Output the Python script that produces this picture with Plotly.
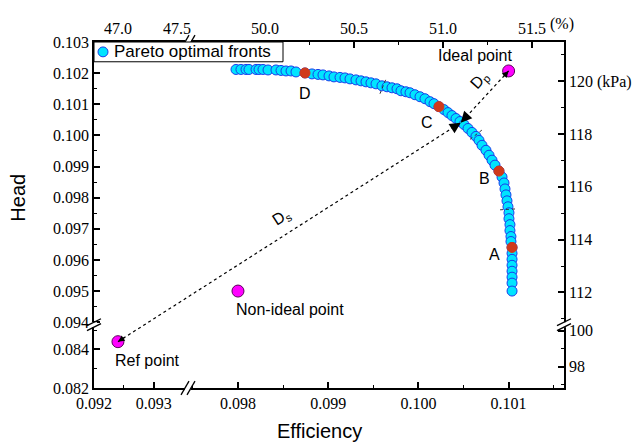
import math
import plotly.graph_objects as go

# ---------------- data ----------------
front_eff = [0.097978, 0.098033, 0.098089, 0.098122, 0.098200, 0.098233, 0.098277, 0.098333,
             0.098421, 0.098477, 0.098532, 0.098588, 0.098643, 0.098743, 0.098820, 0.098887,
             0.098942, 0.099009, 0.099064, 0.099131, 0.099186, 0.099242, 0.099308, 0.099364,
             0.099419, 0.099474, 0.099530, 0.099596, 0.099652, 0.099707, 0.099763, 0.099807,
             0.099862, 0.099907, 0.099962, 0.100018, 0.100073, 0.100129, 0.100173, 0.100228,
             0.100284, 0.100328, 0.100372, 0.100417, 0.100461, 0.100505, 0.100550, 0.100594,
             0.100638, 0.100672, 0.100705, 0.100749, 0.100783, 0.100816, 0.100849, 0.100893,
             0.100927, 0.100949, 0.100960, 0.100971, 0.100982, 0.100993, 0.101004, 0.101004,
             0.101015, 0.101015, 0.101026, 0.101026, 0.101038, 0.101038, 0.101038, 0.101038,
             0.101038, 0.101038, 0.101038, 0.101038]
front_head = [0.102118, 0.102118, 0.102118, 0.102118, 0.102118, 0.102118, 0.102118, 0.102102,
              0.102102, 0.102086, 0.102070, 0.102070, 0.102038, 0.102006, 0.101975, 0.101959,
              0.101943, 0.101911, 0.101879, 0.101863, 0.101847, 0.101815, 0.101783, 0.101752,
              0.101720, 0.101688, 0.101656, 0.101592, 0.101561, 0.101529, 0.101497, 0.101433,
              0.101401, 0.101369, 0.101306, 0.101242, 0.101178, 0.101083, 0.101019, 0.100924,
              0.100828, 0.100733, 0.100637, 0.100542, 0.100446, 0.100350, 0.100223, 0.100096,
              0.099968, 0.099841, 0.099682, 0.099522, 0.099363, 0.099204, 0.099045, 0.098854,
              0.098663, 0.098472, 0.098280, 0.098089, 0.097898, 0.097707, 0.097516, 0.097325,
              0.097134, 0.096943, 0.096752, 0.096592, 0.096401, 0.096210, 0.096019, 0.095828,
              0.095637, 0.095446, 0.095255, 0.095000]

marked_labels = ["D", "C", "B", "A"]
marked_eff = [0.098743, 0.100228, 0.100893, 0.101038]
marked_head = [0.102006, 0.100924, 0.098854, 0.096401]

ideal_eff, ideal_head = 0.101, 0.10207
nonideal_eff, nonideal_head = 0.098, 0.095
ref_eff, ref_head = 0.0924, 0.0844
foot_eff, foot_head = 0.10047, 0.10041     # where D_s and D_p meet the front

# axis segments (broken axes)
eff_left_range = [0.092, 0.09357]
eff_right_range = [0.097446, 0.101614]
head_top_range = [0.09392, 0.1030]
head_bottom_range = [0.082, 0.08528]
pct_left_range = [46.797, 47.593]
pct_right_range = [49.567, 51.68]
kpa_top_range = [110.78, 121.48]
kpa_bottom_range = [96.83, 100.33]

legend_name = "Pareto optimal fronts"

# ---------------- geometry ----------------
FW, FH = 644, 443
ML, MT = 86, 30          # page body adds 8px offset
PW, PH = 470, 350
MR = FW - ML - PW
MB = FH - MT - PH
XBRK = 0.2
YBRK = 0.183

SERIF = "Liberation Serif"
SANS = "Liberation Sans"
BLACK = "#000000"
CYAN = "rgb(0,228,255)"
CYAN_EDGE = "rgb(25,60,235)"


def ex(e):
    """efficiency -> paper x"""
    if e <= eff_left_range[1]:
        a, b = eff_left_range
        return (e - a) / (b - a) * XBRK
    a, b = eff_right_range
    return XBRK + (e - a) / (b - a) * (1 - XBRK)


def hy(h):
    """head -> paper y"""
    if h <= head_bottom_range[1]:
        a, b = head_bottom_range
        return (h - a) / (b - a) * YBRK
    a, b = head_top_range
    return YBRK + (h - a) / (b - a) * (1 - YBRK)


fig = go.Figure()

fig.add_trace(go.Scatter(
    x=front_eff, y=front_head, xaxis="x2", yaxis="y", mode="markers",
    name=legend_name, showlegend=False,
    marker=dict(size=10, color=CYAN, line=dict(color=CYAN_EDGE, width=1)),
))
fig.add_trace(go.Scatter(
    x=marked_eff, y=marked_head, xaxis="x2", yaxis="y", mode="markers", showlegend=False,
    marker=dict(size=10, color="rgb(208,58,28)", line=dict(color="rgb(208,58,28)", width=1)),
))
fig.add_trace(go.Scatter(
    x=[ideal_eff, nonideal_eff], y=[ideal_head, nonideal_head], xaxis="x2", yaxis="y",
    mode="markers", showlegend=False,
    marker=dict(size=12, color="#FF00FF", line=dict(color="#5a005a", width=1)),
))
fig.add_trace(go.Scatter(
    x=[ref_eff], y=[ref_head], xaxis="x", yaxis="y2", mode="markers", showlegend=False,
    marker=dict(size=12, color="#FF00FF", line=dict(color="#5a005a", width=1)),
))
# empty traces so the secondary (top / right) axes get drawn
for xa, ya in [("x3", "y"), ("x4", "y"), ("x2", "y3"), ("x2", "y4")]:
    fig.add_trace(go.Scatter(x=[], y=[], xaxis=xa, yaxis=ya, showlegend=False, hoverinfo="skip"))

tickfont = dict(family=SERIF, size=16, color=BLACK)
common = dict(showline=True, linecolor=BLACK, linewidth=1.5, ticks="inside", ticklen=6,
              tickwidth=1.5, tickcolor=BLACK, showgrid=False, zeroline=False,
              tickfont=tickfont, fixedrange=True)
minor_common = dict(ticks="inside", ticklen=3.5, tickwidth=1.2, tickcolor=BLACK, showgrid=False)

fig.update_layout(
    width=FW, height=FH,
    margin=dict(l=ML, r=MR, t=MT, b=MB, pad=0),
    paper_bgcolor="white", plot_bgcolor="rgba(0,0,0,0)",
    showlegend=False,
    font=dict(family=SERIF, size=16, color=BLACK),
    xaxis=dict(domain=[0, XBRK], range=eff_left_range, anchor="y2",
               tickvals=[0.092, 0.093], ticktext=["0.092", "0.093"],
               minor=dict(tickvals=[0.0925], **minor_common), **common),
    xaxis2=dict(domain=[XBRK, 1], range=eff_right_range, anchor="y2",
                tickvals=[0.098, 0.099, 0.100, 0.101], ticktext=["0.098", "0.099", "0.100", "0.101"],
                minor=dict(tickvals=[0.0975, 0.0985, 0.0995, 0.1005, 0.1015], **minor_common), **common),
    xaxis3=dict(overlaying="x", side="top", anchor="y", range=pct_left_range,
                tickvals=[47.0, 47.5], ticktext=["47.0", "47.5"], **common),
    xaxis4=dict(overlaying="x2", side="top", anchor="y", range=pct_right_range,
                tickvals=[50.0, 50.5, 51.0, 51.5], ticktext=["50.0", "50.5", "51.0", "51.5"],
                minor=dict(tickvals=[49.75, 50.25, 50.75, 51.25], **minor_common), **common),
    yaxis=dict(domain=[YBRK, 1], range=head_top_range, anchor="x",
               tickvals=[0.094 + 0.001 * i for i in range(10)],
               ticktext=["%.3f" % (0.094 + 0.001 * i) for i in range(10)],
               minor=dict(tickvals=[0.0945 + 0.001 * i for i in range(9)], **minor_common), **common),
    yaxis2=dict(domain=[0, YBRK], range=head_bottom_range, anchor="x",
                tickvals=[0.082, 0.084], ticktext=["0.082", "0.084"],
                minor=dict(tickvals=[0.083, 0.085], **minor_common), **common),
    yaxis3=dict(overlaying="y", side="right", anchor="x2", range=kpa_top_range,
                tickvals=[112, 114, 116, 118, 120], ticktext=["112", "114", "116", "118", "120 (kPa)"],
                minor=dict(tickvals=[111, 113, 115, 117, 119, 121], **minor_common), **common),
    yaxis4=dict(overlaying="y2", side="right", anchor="x2", range=kpa_bottom_range,
                tickvals=[98, 100], ticktext=["98", "100"],
                minor=dict(tickvals=[97, 99], **minor_common), **common),
)

shapes = []
annotations = []

# dotted distance lines D_s (ref -> front) and D_p (ideal -> front)
for (e0, h0) in [(ref_eff, ref_head), (ideal_eff, ideal_head)]:
    shapes.append(dict(type="line", xref="paper", yref="paper",
                       x0=ex(e0), y0=hy(h0), x1=ex(foot_eff), y1=hy(foot_head),
                       line=dict(color=BLACK, width=1.2, dash="dot"), layer="above"))


def arrow_head(e_tip, h_tip, e_from, h_from, L, w):
    dx = (ex(e_from) - ex(e_tip)) * PW
    dy = -(hy(h_from) - hy(h_tip)) * PH
    n = math.hypot(dx, dy)
    annotations.append(dict(x=ex(e_tip), y=hy(h_tip), xref="paper", yref="paper",
                            ax=dx / n * L, ay=dy / n * L, axref="pixel", ayref="pixel",
                            text="", showarrow=True, arrowhead=2, arrowsize=1,
                            arrowwidth=w, arrowcolor=BLACK, standoff=0, startstandoff=0))


arrow_head(ref_eff, ref_head, foot_eff, foot_head, 10, 1.3)
arrow_head(ideal_eff, ideal_head, foot_eff, foot_head, 10, 1.3)
arrow_head(foot_eff, foot_head, ref_eff, ref_head, 9, 2.2)
arrow_head(foot_eff, foot_head, ideal_eff, ideal_head, 9, 2.2)

# short dotted dividers across the front
for (a0, b0, a1, b1) in [(0.099574, 0.101338, 0.099641, 0.101815),
                         (0.100572, 0.099873, 0.100727, 0.100223),
                         (0.100905, 0.097610, 0.101104, 0.097642)]:
    shapes.append(dict(type="line", xref="x2", yref="y", x0=a0, y0=b0, x1=a1, y1=b1,
                       line=dict(color="#333333", width=1, dash="dot"), layer="above"))


# axis break marks
def hbreak(xc, yc):
    shapes.append(dict(type="rect", xref="paper", yref="paper", x0=xc - 3 / PW, x1=xc + 3 / PW,
                       y0=yc - 3 / PH, y1=yc + 3 / PH, fillcolor="white",
                       line=dict(width=0), layer="above"))
    for off in (-3, 3):
        shapes.append(dict(type="line", xref="paper", yref="paper",
                           x0=xc + (off - 4) / PW, y0=yc - 7 / PH,
                           x1=xc + (off + 4) / PW, y1=yc + 7 / PH,
                           line=dict(color=BLACK, width=1.3), layer="above"))


def vbreak(xc, yc):
    shapes.append(dict(type="rect", xref="paper", yref="paper", x0=xc - 3 / PW, x1=xc + 3 / PW,
                       y0=yc - 2.5 / PH, y1=yc + 2.5 / PH, fillcolor="white",
                       line=dict(width=0), layer="above"))
    for off in (-2.5, 2.5):
        shapes.append(dict(type="line", xref="paper", yref="paper",
                           x0=xc - 7 / PW, y0=yc + (off - 3.5) / PH,
                           x1=xc + 7 / PW, y1=yc + (off + 3.5) / PH,
                           line=dict(color=BLACK, width=1.3), layer="above"))


hbreak(XBRK, 0)
hbreak(XBRK, 1)
vbreak(0, YBRK)
vbreak(1, YBRK)

# legend box (drawn by hand so it stays as compact as in the original)
shapes.append(dict(type="rect", xref="paper", yref="paper", x0=0, x1=189 / PW,
                   y0=1 - 20 / PH, y1=1, fillcolor="white",
                   line=dict(color=BLACK, width=1), layer="above"))
shapes.append(dict(type="circle", xref="paper", yref="paper", x0=4 / PW, x1=14 / PW,
                   y0=1 - 15 / PH, y1=1 - 5 / PH, fillcolor=CYAN,
                   line=dict(color=CYAN_EDGE, width=1), layer="above"))
annotations.append(dict(x=18 / PW, y=1 - 10 / PH, xref="paper", yref="paper", text=legend_name,
                        showarrow=False, xanchor="left", yanchor="middle",
                        font=dict(family=SANS, size=17, color=BLACK)))

lab = dict(family=SANS, size=16, color=BLACK)
shifts = {"D": (0, -21), "C": (-12, -16), "B": (-14, -7), "A": (-18, -7)}
for name, e, h in zip(marked_labels, marked_eff, marked_head):
    sx, sy = shifts[name]
    annotations.append(dict(x=e, y=h, xref="x2", yref="y", text=name, showarrow=False,
                            xshift=sx, yshift=sy, font=lab))
annotations.append(dict(x=ideal_eff, y=ideal_head, xref="x2", yref="y", text="Ideal point",
                        showarrow=False, xshift=-34, yshift=15, font=lab))
annotations.append(dict(x=nonideal_eff, y=nonideal_head, xref="x2", yref="y", text="Non-ideal point",
                        showarrow=False, xshift=52, yshift=-18, font=lab))
annotations.append(dict(x=ref_eff, y=ref_head, xref="x", yref="y2", text="Ref point",
                        showarrow=False, xshift=30, yshift=-19, font=lab))

# distance labels
t = 0.48
ds_x = ex(ref_eff) + t * (ex(foot_eff) - ex(ref_eff))
ds_y = hy(ref_head) + t * (hy(foot_head) - hy(ref_head))
annotations.append(dict(x=ds_x, y=ds_y, xref="paper", yref="paper", text="D<sub>s</sub>",
                        showarrow=False, textangle=-33, xshift=-1, yshift=19, font=lab))
t = 0.5
dp_x = ex(foot_eff) + t * (ex(ideal_eff) - ex(foot_eff))
dp_y = hy(foot_head) + t * (hy(ideal_head) - hy(foot_head))
annotations.append(dict(x=dp_x, y=dp_y, xref="paper", yref="paper", text="D<sub>p</sub>",
                        showarrow=False, textangle=-48, xshift=11, yshift=32, font=lab))

# unit on top axis
annotations.append(dict(x=51.5, y=1, xref="x4", yref="paper", text="(%)", showarrow=False,
                        xanchor="left", yanchor="bottom", xshift=16, yshift=7,
                        font=dict(family=SERIF, size=16, color=BLACK)))

# axis titles
annotations.append(dict(x=ex(0.0989), y=0, xref="paper", yref="paper", text="Efficiency",
                        showarrow=False, xanchor="center", yanchor="top", yshift=-30,
                        font=dict(family=SANS, size=20, color=BLACK)))
annotations.append(dict(x=0, y=hy(0.0980), xref="paper", yref="paper", text="Head",
                        showarrow=False, textangle=-90, xanchor="right", yanchor="middle",
                        xshift=-63, font=dict(family=SANS, size=20, color=BLACK)))

fig.update_layout(shapes=shapes, annotations=annotations)
fig.write_html("out.html")
